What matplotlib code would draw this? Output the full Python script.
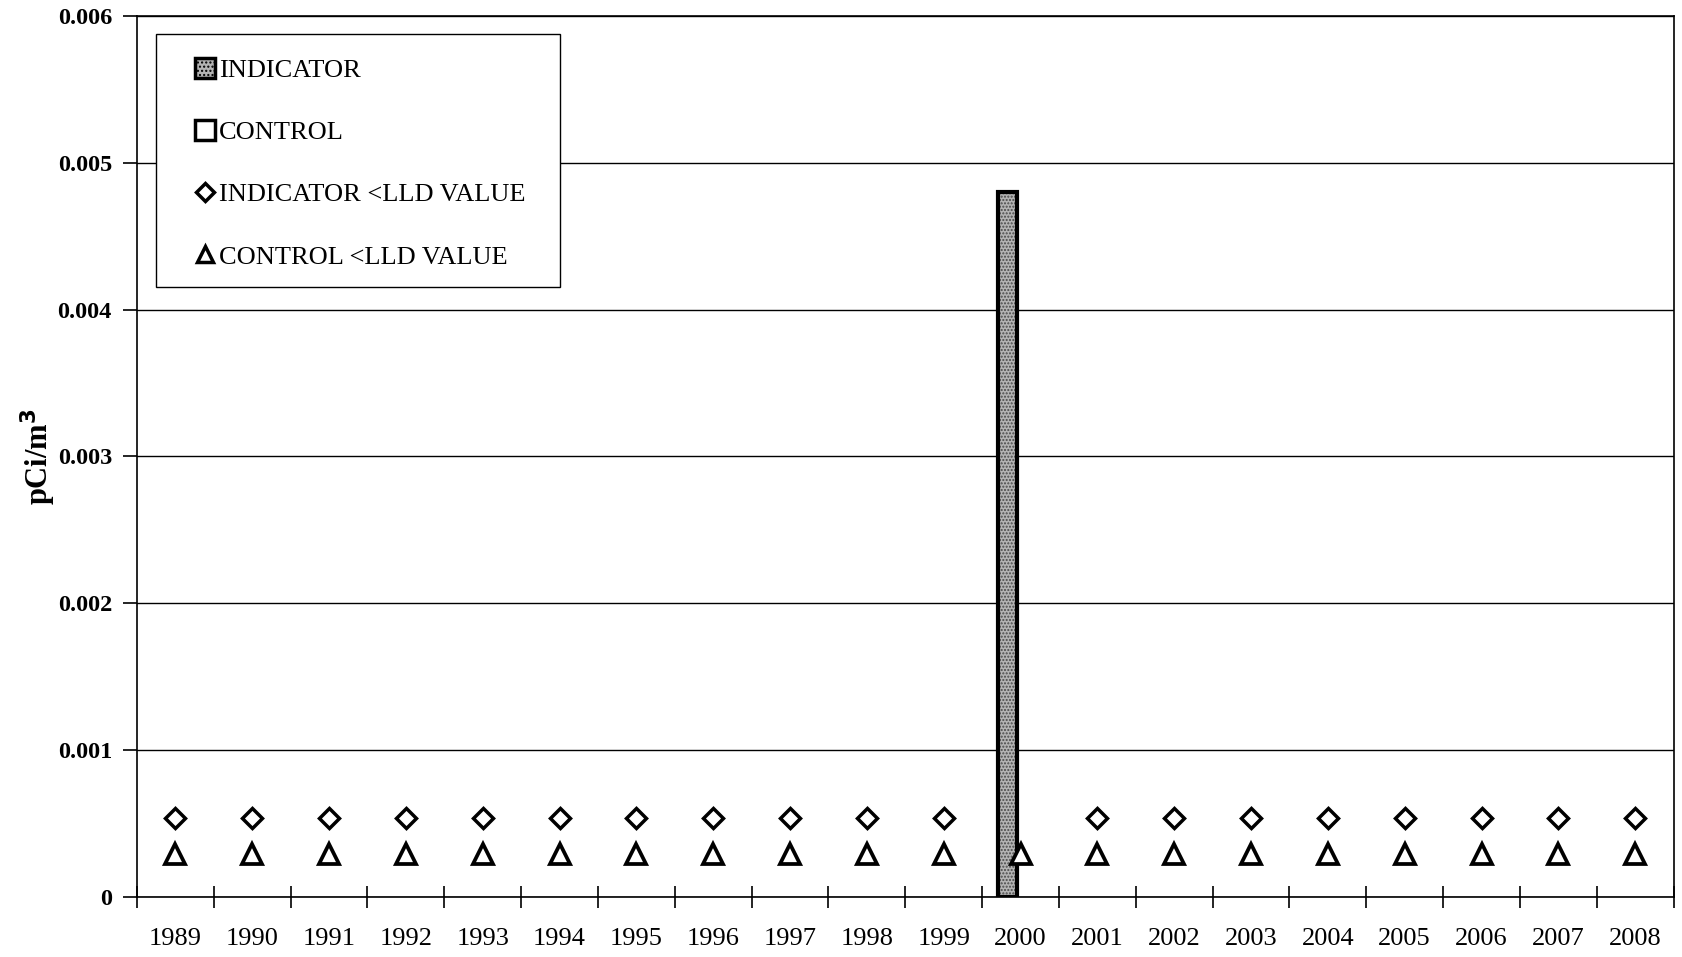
import numpy as np
import matplotlib.pyplot as plt
from matplotlib.patches import Patch, Rectangle
from matplotlib.lines import Line2D

plt.rcParams['font.family'] = ['Liberation Serif', 'DejaVu Serif']

# Data
years = [str(y) for y in range(1989, 2009)]
indicator = [0, 0, 0, 0, 0, 0, 0, 0, 0, 0, 0, 0.0048, 0, 0, 0, 0, 0, 0, 0, 0]
control = [0] * 20
# <LLD values (None where a real value was reported)
indicator_lld = [0.00054] * 11 + [None] + [0.00054] * 8
control_lld = [0.00029] * 20

x = np.arange(len(years))
bar_w = 0.25
off = 0.17

fig = plt.figure(figsize=(16.83, 9.57), dpi=100)
ax = fig.add_axes([0.0814, 0.0627, 0.913, 0.9206])

# Indicator bars (only non-zero values are visible): grey stipple, black outline
bx = [xi - off for xi, v in zip(x, indicator) if v > 0]
bv = [v for v in indicator if v > 0]
ax.bar(bx, bv, width=bar_w, color='#b4b4b4', hatch='.....',
       edgecolor='#4a4a4a', linewidth=0, zorder=3)
ax.bar(bx, bv, width=bar_w, fill=False, edgecolor='black',
       linewidth=3, zorder=4)
cx = [xi + off for xi, v in zip(x, control) if v > 0]
cv = [v for v in control if v > 0]
if cv:
    ax.bar(cx, cv, width=bar_w, color='white', edgecolor='black',
           linewidth=3, zorder=3)

ind_x = [xi for xi, v in zip(x, indicator_lld) if v is not None]
ind_y = [v for v in indicator_lld if v is not None]
ax.plot(ind_x, ind_y, linestyle='none', marker='D', markersize=10,
        markerfacecolor='white', markeredgecolor='black', markeredgewidth=2.5,
        zorder=5)
ax.plot(x, control_lld, linestyle='none', marker='^', markersize=15,
        markerfacecolor='white', markeredgecolor='black', markeredgewidth=2.7,
        zorder=5)

ax.set_xlim(-0.5, len(years) - 0.5)
ax.set_ylim(0, 0.006)
ax.set_yticks(np.arange(0, 0.0061, 0.001))
ax.set_yticklabels(['0', '0.001', '0.002', '0.003', '0.004', '0.005', '0.006'],
                   fontsize=17.5, fontweight='bold')
ax.set_xticks(x)
ax.set_xticklabels(years, fontsize=19)
ax.tick_params(axis='x', which='major', length=0, pad=22)
ax.set_xticks(np.arange(-0.5, len(years)), minor=True)
ax.tick_params(axis='x', which='minor', direction='inout', length=16, width=1.2)
ax.tick_params(axis='y', direction='out', length=10, width=1.2, pad=8)

ax.grid(axis='y', color='black', linewidth=1, zorder=0)
ax.set_axisbelow(True)
for s in ax.spines.values():
    s.set_linewidth(1.2)

ax.set_ylabel('pCi/m$^\\mathbf{3}$', fontsize=22, fontweight='bold', labelpad=0)

# Legend frame drawn separately so the padding matches the original
ax.add_patch(Rectangle((0.0126, 0.692), 0.2626, 0.287, transform=ax.transAxes,
                       facecolor='white', edgecolor='black', linewidth=1,
                       zorder=9))
handles = [
    Patch(facecolor='#b4b4b4', hatch='....', edgecolor='black', linewidth=2.5),
    Patch(facecolor='white', edgecolor='black', linewidth=2.5),
    Line2D([], [], linestyle='none', marker='D', markersize=9,
           markerfacecolor='white', markeredgecolor='black', markeredgewidth=2.5),
    Line2D([], [], linestyle='none', marker='^', markersize=11,
           markerfacecolor='white', markeredgecolor='black', markeredgewidth=2.5),
]
labels = ['INDICATOR', 'CONTROL', 'INDICATOR <LLD VALUE', 'CONTROL <LLD VALUE']
leg = ax.legend(handles, labels, loc='upper left', bbox_to_anchor=(0.038, 0.952),
                fontsize=19, labelspacing=1.45, handlelength=0.75,
                handleheight=0.75, handletextpad=0.15, borderpad=0,
                borderaxespad=0, frameon=False)
leg.set_zorder(10)

fig.savefig('out.png', dpi=100)
